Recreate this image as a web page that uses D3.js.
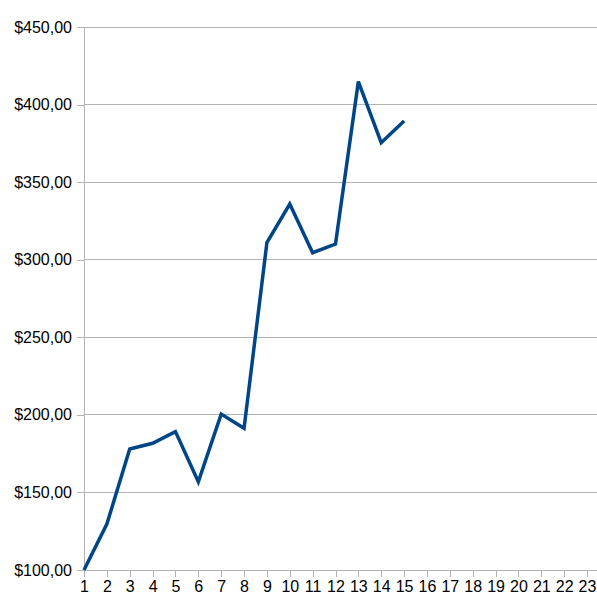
<!DOCTYPE html>
<html><head><meta charset="utf-8">
<script src="https://cdn.jsdelivr.net/npm/d3@7"></script>
<style>body{margin:0;background:#fff}svg{display:block}</style>
</head><body>
<svg id="c" width="597" height="611"></svg>
<script>
const categories = d3.range(1, 24);
const values = [100, 129.6, 178, 181.7, 189.2, 156.9, 200.5, 191.3, 311, 335.9, 304.5, 310.1, 414.8, 375.4, 389.4];
const yTicks = [100, 150, 200, 250, 300, 350, 400, 450];

const svg = d3.select("#c");
const mLeft = 84, mRight = 597, mTop = 27, mBottom = 570;
const x = d3.scaleLinear().domain([1, 23]).range([mLeft, 587]);
const y = d3.scaleLinear().domain([100, 450]).range([mBottom, mTop]);
const fmt = v => "$" + d3.format(".2f")(v).replace(".", ",");
const font = "'Liberation Sans', Arial, sans-serif";

// gridlines
svg.append("g").selectAll("line").data(yTicks).join("line")
  .attr("x1", mLeft).attr("x2", mRight)
  .attr("y1", d => y(d)).attr("y2", d => y(d))
  .attr("stroke", "#b3b3b3").attr("stroke-width", 1).attr("shape-rendering", "crispEdges");

// y axis
const ya = svg.append("g").attr("transform", `translate(${mLeft},0)`)
  .call(d3.axisLeft(y).tickValues(yTicks).tickFormat(fmt).tickSize(7).tickPadding(5));
ya.select(".domain").attr("stroke", "#b3b3b3").attr("d", `M0,${mTop}V${mBottom + 7}`);
ya.selectAll(".tick line").attr("stroke", "#b3b3b3");
ya.selectAll("text").attr("font-family", font).attr("font-size", 16).attr("fill", "#000");

// x axis
const xa = svg.append("g").attr("transform", `translate(0,${mBottom})`)
  .call(d3.axisBottom(x).tickValues(categories).tickFormat(d3.format("d")).tickSize(7).tickPadding(4));
xa.select(".domain").attr("stroke", "#b3b3b3").attr("d", `M${mLeft},0H${mRight}`);
xa.selectAll(".tick line").attr("stroke", "#b3b3b3");
xa.selectAll("text").attr("font-family", font).attr("font-size", 16).attr("fill", "#000");
svg.selectAll(".domain, .tick line").attr("shape-rendering", "crispEdges");

// line
svg.append("path").datum(values)
  .attr("fill", "none").attr("stroke", "#004586").attr("stroke-width", 3.5)
  .attr("stroke-linejoin", "miter")
  .attr("d", d3.line().x((d, i) => x(categories[i])).y(d => y(d)));
</script>
</body></html>
